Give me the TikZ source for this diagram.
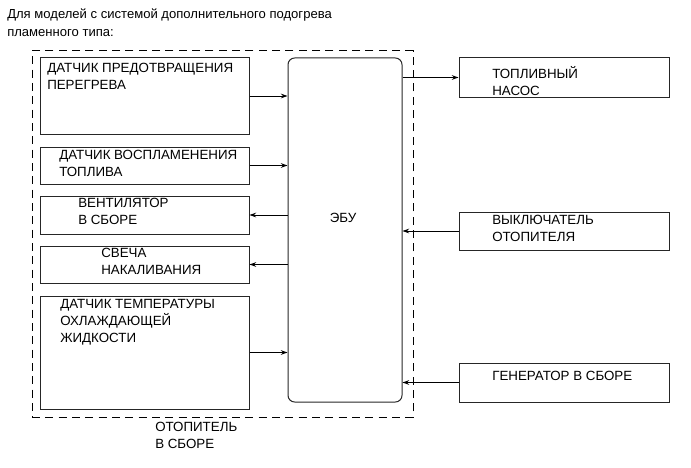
\documentclass[tikz,border=0pt]{standalone}
\usepackage{fontspec}
\setmainfont{Liberation Sans}
\usetikzlibrary{fit,arrows.meta}
\begin{document}
\begin{tikzpicture}[x=0.75pt,y=-0.75pt,
  box/.style={draw=black!85,line width=0.75pt,inner sep=0pt},
  ecubox/.style={draw=black!85,line width=0.75pt,inner sep=0pt,rounded corners=5pt},
  dashbox/.style={draw=black,line width=0.75pt,dash pattern=on 6pt off 4pt,inner sep=0pt},
  lbl/.style={anchor=north west,inner sep=0pt,align=left,font=\fontsize{10pt}{12.6pt}\selectfont},
  arr/.style={draw=black,line width=0.75pt,-{Stealth[length=5pt,width=3.5pt]}}]
\useasboundingbox (0,0) rectangle (691,467);
% title
\node[lbl,font=\fontsize{9.8pt}{13.5pt}\selectfont] (title) at (7,9) {Для моделей с системой дополнительного подогрева\\пламенного типа:};
% dashed heater boundary
\node[dashbox,fit={(32,51) (413,417)}] (heater) {};
\node[lbl] (heaterlbl) at (155,422) {ОТОПИТЕЛЬ\\В СБОРЕ};
% ECU
\node[ecubox,fit={(288,58) (402,402)}] (ecu) {};
\node[font=\fontsize{10pt}{12pt}\selectfont,inner sep=0pt] (ecutxt) at (343,218) {ЭБУ};
% left boxes
\node[box,fit={(40,58) (249,134)}] (b1) {};
\node[lbl] (t1) at (47,63) {ДАТЧИК ПРЕДОТВРАЩЕНИЯ\\ПЕРЕГРЕВА};
\node[box,fit={(40,147) (249,184)}] (b2) {};
\node[lbl] (t2) at (59,150) {ДАТЧИК ВОСПЛАМЕНЕНИЯ\\ТОПЛИВА};
\node[box,fit={(40,196) (249,234)}] (b3) {};
\node[lbl] (t3) at (78,198) {ВЕНТИЛЯТОР\\В СБОРЕ};
\node[box,fit={(40,246) (249,283)}] (b4) {};
\node[lbl] (t4) at (101,248) {СВЕЧА\\НАКАЛИВАНИЯ};
\node[box,fit={(40,296) (249,409)}] (b5) {};
\node[lbl] (t5) at (60,299) {ДАТЧИК ТЕМПЕРАТУРЫ\\ОХЛАЖДАЮЩЕЙ\\ЖИДКОСТИ};
% right boxes
\node[box,fit={(459,58) (669,97)}] (r1) {};
\node[lbl] (tr1) at (492,66) {ТОПЛИВНЫЙ\\НАСОС};
\node[box,fit={(459,212) (669,250)}] (r2) {};
\node[lbl] (tr2) at (492,215) {ВЫКЛЮЧАТЕЛЬ\\ОТОПИТЕЛЯ};
\node[box,fit={(459,363) (669,402)}] (r3) {};
\node[lbl] (tr3) at (492,371) {ГЕНЕРАТОР В СБОРЕ};
% connectors
\draw[arr] (b1.east) -- (b1.east -| ecu.west);
\draw[arr] (b2.east) -- (b2.east -| ecu.west);
\draw[arr] (b3.east -| ecu.west) -- (b3.east);
\draw[arr] (b4.east -| ecu.west) -- (b4.east);
\draw[arr] (b5.east) -- (b5.east -| ecu.west);
\draw[arr] (r1.west -| ecu.east) -- (r1.west);
\draw[arr] (r2.west) -- (r2.west -| ecu.east);
\draw[arr] (r3.west) -- (r3.west -| ecu.east);
\end{tikzpicture}
\end{document}
